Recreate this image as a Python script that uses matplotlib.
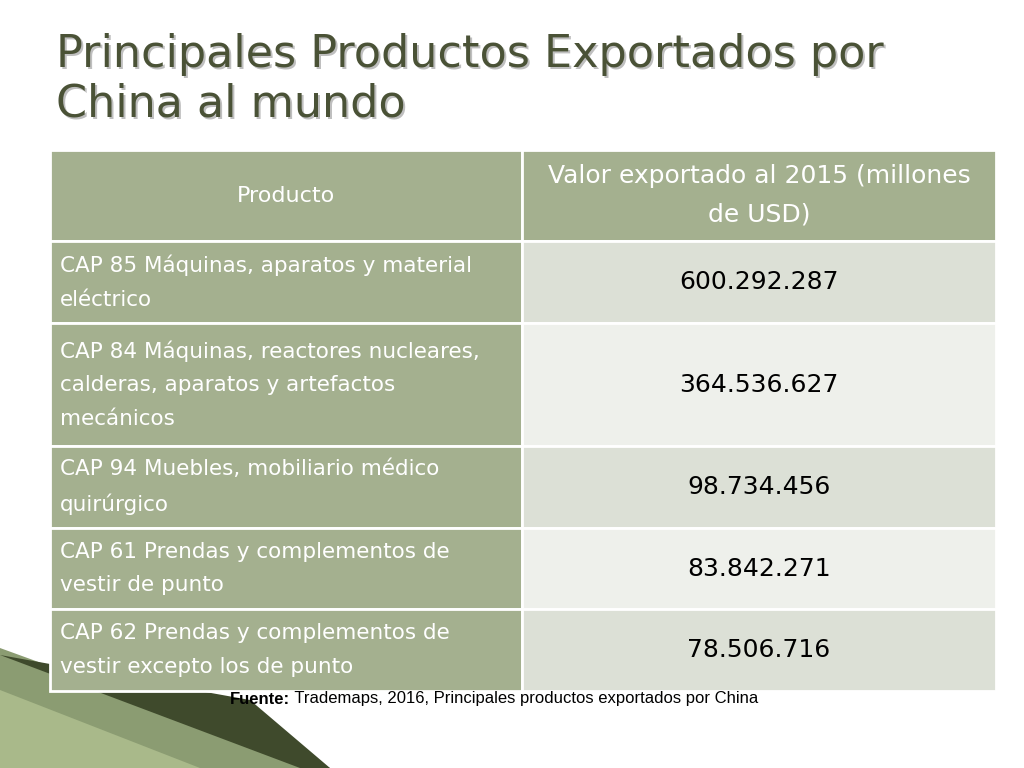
import matplotlib
matplotlib.use("Agg")
import matplotlib.pyplot as plt
from matplotlib.patches import Rectangle, Polygon

title = "Principales Productos Exportados por\nChina al mundo"
headers = ["Producto", "Valor exportado al 2015 (millones\nde USD)"]
products = [
    "CAP 85 Máquinas, aparatos y material\neléctrico",
    "CAP 84 Máquinas, reactores nucleares,\ncalderas, aparatos y artefactos\nmecánicos",
    "CAP 94 Muebles, mobiliario médico\nquirúrgico",
    "CAP 61 Prendas y complementos de\nvestir de punto",
    "CAP 62 Prendas y complementos de\nvestir excepto los de punto",
]
values = [600292287, 364536627, 98734456, 83842271, 78506716]
source_bold = "Fuente:"
source_text = " Trademaps, 2016, Principales productos exportados por China"

def fmt(v):
    return f"{v:,}".replace(",", ".")

fig = plt.figure(figsize=(10.24, 7.68), dpi=100)
ax = fig.add_axes([0, 0, 1, 1])
ax.set_xlim(0, 1024); ax.set_ylim(768, 0); ax.axis("off")

# decorative shapes bottom-left
ax.add_patch(Polygon([(0, 648), (0, 768), (330, 768)], color="#7F9163", alpha=0.9, lw=0))
ax.add_patch(Polygon([(0, 690), (0, 768), (200, 768)], color="#A9B98A", lw=0))
ax.add_patch(Polygon([(0, 655), (250, 700), (330, 768), (300, 768)], color="#3F4A2C", lw=0))

ax.text(58, 81, title, fontsize=32, color="black", alpha=0.25, va="center", ha="left",
        linespacing=1.2)
ax.text(56, 79, title, fontsize=32, color="#4A5236", va="center", ha="left",
        linespacing=1.2)

xl, xm, xr = 50, 522, 996
rows = [150, 241, 323, 446, 528, 609, 691]
hdr = "#A4B08F"
shades = ["#DCE0D6", "#EEF0EB"]
ax.add_patch(Rectangle((xl, rows[0]), xm - xl, rows[1] - rows[0], fc=hdr, ec="white", lw=2))
ax.add_patch(Rectangle((xm, rows[0]), xr - xm, rows[1] - rows[0], fc=hdr, ec="white", lw=2))
ax.text((xl + xm) / 2, (rows[0] + rows[1]) / 2, headers[0], color="white", fontsize=16,
        ha="center", va="center")
ax.text((xm + xr) / 2, (rows[0] + rows[1]) / 2, headers[1], color="white", fontsize=18,
        ha="center", va="center", linespacing=1.75)
for i, (p, v) in enumerate(zip(products, values)):
    y0, y1 = rows[i + 1], rows[i + 2]
    ax.add_patch(Rectangle((xl, y0), xm - xl, y1 - y0, fc=hdr, ec="white", lw=2))
    ax.add_patch(Rectangle((xm, y0), xr - xm, y1 - y0, fc=shades[i % 2], ec="white", lw=2))
    ax.text(60, (y0 + y1) / 2, p, color="white", fontsize=15.5, ha="left", va="center",
            linespacing=1.85)
    ax.text((xm + xr) / 2, (y0 + y1) / 2, fmt(v), color="black", fontsize=18,
            ha="center", va="center")

t1 = ax.text(230, 699, source_bold, fontsize=12, fontweight="bold", ha="left", va="center",
             fontfamily="Liberation Sans")
fig.canvas.draw()
bb = t1.get_window_extent()
x2 = ax.transData.inverted().transform((bb.x1, 0))[0]
ax.text(x2, 699, source_text, fontsize=12, ha="left", va="center", fontfamily="Liberation Sans")

fig.savefig("out.png", dpi=100, facecolor="white")
